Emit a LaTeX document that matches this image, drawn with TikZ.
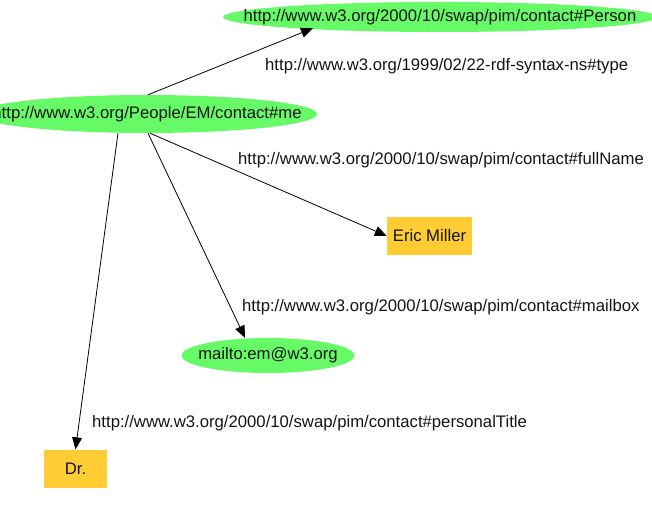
\documentclass[tikz,border=0pt]{standalone}
\usepackage{fontspec}
\setmainfont{Liberation Sans}
\usetikzlibrary{shapes.geometric,arrows.meta}
\definecolor{nodegreen}{RGB}{102,250,102}
\definecolor{litbox}{RGB}{255,204,51}
\definecolor{inktext}{RGB}{20,20,20}
\tikzset{
  every node/.style={font=\fontsize{16.7}{20}\selectfont, text=inktext},
  res/.style={ellipse, fill=nodegreen, draw=none, inner sep=0pt},
  lit/.style={rectangle, fill=litbox, draw=none, inner sep=0pt},
  prop/.style={anchor=west, inner sep=0pt},
  rel/.style={draw=black, line width=0.8pt, -{Triangle[length=12pt,width=10pt]}}
}
\begin{document}
\begin{tikzpicture}[x=1pt,y=-1pt]
\useasboundingbox (0,0) rectangle (652,510);
% nodes
\node[res, minimum width=434pt, minimum height=30pt] (person) at (440,17) {\makebox[0pt]{http://www.w3.org/2000/10/swap/pim/contact\#Person}};
\node[res, minimum width=340pt, minimum height=38pt] (me) at (147,114) {\makebox[0pt]{http://www.w3.org/People/EM/contact\#me}};
\node[lit, minimum width=85pt, minimum height=38pt] (eric) at (429.5,236) {Eric Miller};
\node[res, minimum width=173pt, minimum height=35pt] (mailto) at (268,355.5) {\makebox[0pt]{mailto:em@w3.org}};
\node[lit, minimum width=63pt, minimum height=38pt] (dr) at (75.5,468.5) {Dr.};
% property labels
\node[prop] (ltype) at (265,66) {http://www.w3.org/1999/02/22-rdf-syntax-ns\#type};
\node[prop] (lfull) at (238,160) {http://www.w3.org/2000/10/swap/pim/contact\#fullName};
\node[prop] (lmail) at (242,307) {http://www.w3.org/2000/10/swap/pim/contact\#mailbox};
\node[prop] (ltitle) at (92,423) {http://www.w3.org/2000/10/swap/pim/contact\#personalTitle};
% connectors
\draw[rel] ([xshift=1pt]me.north) -- ([xshift=-127pt,yshift=4pt]person.south);
\draw[rel] ([xshift=3pt]me.south) -- (eric.west);
\draw[rel] ([xshift=1pt]me.south) -- ([xshift=-23pt]mailto.north);
\draw[rel] ([xshift=-29pt]me.south) -- (dr.north);
\end{tikzpicture}
\end{document}
